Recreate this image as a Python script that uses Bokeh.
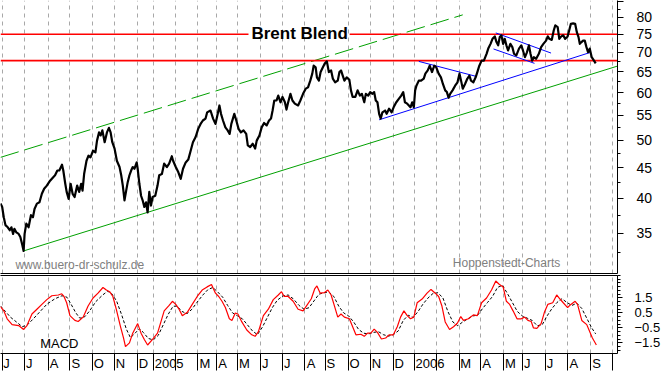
from bokeh.plotting import figure
from bokeh.layouts import column
from bokeh.models import Range1d, FixedTicker, LinearAxis, BasicTickFormatter, Label
from bokeh.embed import file_html
from bokeh.resources import INLINE

# ---------------- data (x unit = trading days from the left edge) ----------------
month_start_day = [1.7, 24.2, 48.0, 70.0, 92.5, 115.0, 137.7, 154.3, 176.5, 199.0, 218.0,
                   239.3, 262.0, 284.3, 306.7, 327.5, 350.7, 372.7, 395.7, 417.3, 440.0,
                   462.3, 484.3, 506.7, 526.7, 549.0, 571.7, 595.0, 617.3]
month_label = ["J", "J", "A", "S", "O", "N", "D", "2005", "", "M", "A", "M", "J", "J", "A",
               "S", "O", "N", "D", "2006", "", "M", "A", "M", "J", "J", "A", "S", "O"]

price_day = [
    0, 1.7, 3.3, 5, 7.3, 9.3, 11, 12.7, 14, 16,
    18.3, 20, 21.7, 23.3, 24.3, 26, 28.3, 30.7, 32.7, 34.3,
    36.7, 39.3, 41.7, 44, 46.7, 50, 52.7, 55, 57.3, 59.3,
    62, 63.3, 65.3, 66.7, 68.7, 70.7, 72.7, 74.7, 77.3, 79.3,
    81.3, 82.7, 84.3, 86.7, 88.7, 90.7, 93.3, 95.7, 97.3, 99.3,
    101, 102.7, 105, 107.3, 109.3, 111, 112.7, 115, 117.3, 120,
    121.7, 123.3, 125, 126.7, 128.3, 130, 131.7, 133.3, 135, 137.3,
    138.3, 140, 141.7, 143.3, 145, 146.7, 148.3, 150, 151.7, 153.3,
    156, 158.3, 160, 162.7, 165, 167.7, 170, 172.7, 174, 176.7,
    179.3, 181.7, 184, 186.7, 189.3, 191.7, 194, 196.7, 199.3, 201.7,
    204, 206.7, 208.3, 211.7, 214.3, 216.7, 219, 220.7, 222.3, 224.3,
    226.7, 229, 231, 232.7, 235.7, 237.7, 240, 242.3, 245, 247.7,
    249.3, 251.7, 254.3, 256.7, 258.3, 261, 263.3, 265.7, 268.3, 270.7,
    272.7, 274.3, 276, 278.3, 280, 282.3, 284.3, 286.7, 288.3, 290,
    292.3, 294.3, 296.7, 300, 302.3, 305, 307.7, 310, 312.3, 314.3,
    315.7, 317.7, 319, 321, 322.7, 325, 327, 329, 331, 333.3,
    335, 337.3, 340, 341.7, 343.3, 345, 346.7, 349, 351.7, 353.3,
    355, 357.7, 360, 362.3, 364.3, 366.7, 368.3, 370.7, 372.7, 375,
    376.7, 378.3, 380, 381.7, 383.3, 385, 387.7, 389.3, 391.7, 394.3,
    396.7, 399, 401.7, 404, 406, 407.7, 410, 411.7, 413.3, 415,
    416.7, 418, 419.3, 421.7, 424, 426.7, 428.3, 430.7, 432.7, 435,
    437.3, 439.3, 441.7, 444, 446, 448.3, 450, 451.7, 453.3, 455.7,
    458.3, 460.7, 462.7, 464.3, 466, 468.3, 470.7, 472.7, 474.3, 476.7,
    479, 480.7, 482.7, 485, 487.3, 490, 491.7, 494, 496, 498.3,
    500, 501.7, 503.3, 505, 506.7, 508.3, 510, 511.7, 514, 516,
    517.7, 520, 522.7, 525, 526.7, 528.7, 530.7, 532.7, 534.3, 536,
    537.7, 540, 542.7, 545, 547.3, 550, 551.7, 553.3, 555.7, 557.7,
    559.3, 561.7, 563.3, 565.3, 567.3, 569.3, 571.7, 573.3, 575, 577.3,
    579.3, 581, 582.7, 584, 585.7, 587.3, 589, 590.7, 592.3, 594,
    596, 598.3, 600]
price = [
    39.2, 38.7, 37.2, 36.1, 35.8, 35.4, 35.8, 34.9, 35.6, 35.1,
    34.9, 34.5, 33.6, 32.7, 34.9, 36.3, 35.8, 37.5, 37.2, 38.4,
    39.2, 39.4, 40.7, 41.5, 42.0, 42.8, 43.3, 43.7, 44.5, 44.5,
    45.5, 44.5, 42.3, 41.0, 39.9, 42.3, 40.7, 40.2, 42.0, 41.0,
    42.3, 41.2, 43.9, 46.2, 47.1, 46.8, 48.0, 47.7, 49.9, 51.5,
    50.9, 51.9, 49.6, 51.5, 52.4, 51.5, 49.6, 48.4, 46.2, 45.1,
    43.7, 42.0, 39.7, 41.2, 42.6, 43.7, 44.5, 45.1, 44.8, 45.9,
    44.8, 42.3, 40.4, 39.7, 38.7, 39.4, 37.9, 41.0, 38.9, 40.2,
    40.4, 42.0, 43.7, 43.9, 45.7, 45.1, 45.7, 47.0, 46.2, 45.1,
    44.2, 43.1, 44.8, 45.9, 46.4, 48.0, 49.6, 50.6, 52.2, 53.2,
    53.9, 54.3, 55.6, 56.0, 54.3, 53.2, 55.3, 57.1, 55.3, 53.9,
    52.5, 51.9, 51.2, 53.2, 55.3, 53.9, 52.2, 51.5, 51.9, 51.2,
    49.0, 48.7, 49.3, 48.4, 49.9, 50.9, 52.5, 53.4, 52.9, 53.9,
    54.3, 56.0, 58.2, 58.2, 59.3, 57.8, 59.0, 57.8, 56.2, 57.8,
    59.7, 58.2, 57.5, 57.1, 58.2, 59.7, 60.9, 61.2, 62.8, 64.5,
    66.5, 66.1, 63.6, 62.8, 64.9, 66.1, 67.1, 67.6, 64.9, 65.3,
    63.3, 62.4, 62.8, 64.9, 65.3, 64.0, 62.8, 63.6, 63.0, 60.5,
    59.0, 59.0, 60.5, 59.3, 59.7, 57.8, 59.7, 59.3, 60.1, 59.7,
    60.1, 58.2, 57.8, 55.3, 54.3, 55.6, 56.0, 55.3, 56.4, 55.6,
    56.9, 57.8, 58.6, 59.3, 60.1, 57.8, 57.5, 57.1, 56.7, 57.8,
    56.7, 60.5, 61.6, 62.8, 62.8, 63.3, 64.5, 65.3, 66.5, 64.9,
    66.5, 66.1, 64.5, 63.6, 62.0, 60.5, 60.1, 58.8, 59.7, 60.5,
    61.6, 62.4, 64.5, 62.8, 60.9, 62.0, 63.3, 64.0, 62.8, 62.4,
    63.6, 64.9, 66.5, 67.8, 67.8, 69.6, 71.0, 72.3, 73.7, 74.4,
    72.8, 71.9, 74.2, 74.7, 72.3, 73.7, 71.9, 70.5, 72.3, 71.4,
    69.6, 69.2, 71.0, 71.9, 70.5, 68.7, 70.0, 71.9, 69.6, 67.8,
    68.7, 68.3, 69.6, 71.4, 72.3, 73.2, 74.4, 73.7, 73.4, 76.1,
    77.6, 77.1, 73.7, 74.4, 74.7, 73.7, 74.4, 76.1, 78.1, 78.2,
    78.1, 75.6, 74.2, 72.3, 72.8, 73.2, 73.2, 71.4, 70.0, 71.0,
    68.7, 67.8, 67.1]

macd_day = [
    0, 3.3, 6.7, 11.7, 18.3, 23.3, 26.7, 31.7, 36.7, 41.7,
    46.7, 51.7, 58.3, 61.7, 64, 66.7, 70, 75, 78.3, 83.3,
    88.3, 93.3, 98.3, 103.3, 106.7, 110, 113.3, 116.7, 120.7, 124,
    126, 130, 133.3, 138.3, 141.7, 145, 148.3, 153.3, 158.3, 161.7,
    165, 170, 173.3, 176.7, 180, 183.3, 188.3, 193.3, 198.3, 203.3,
    208.3, 212.7, 216.7, 220, 223.3, 226.7, 230.7, 233.3, 236.7, 239.3,
    243.3, 248.3, 253.3, 256.7, 260, 265, 270, 275, 280, 283.3,
    286, 290, 295, 300, 305, 308.3, 313.3, 316.7, 319, 322.3,
    326.7, 330, 333.3, 336.7, 340, 343.3, 346.7, 351.7, 355, 358.3,
    363.3, 366.7, 370, 373.3, 376.7, 380, 384, 388.3, 391.7, 396,
    400, 403.3, 406.7, 410, 413.3, 416.7, 420, 425, 430, 434,
    438.3, 441.7, 445, 448.3, 452.7, 456.7, 460.7, 464, 466.7, 471.7,
    476.7, 480.7, 485, 490, 495, 499.3, 502.7, 506.7, 510, 513.3,
    516.7, 520.7, 525, 528.3, 531.7, 535, 537.3, 540.7, 545, 548.3,
    551.7, 556.7, 560.7, 564, 567.3, 571.7, 575, 579.3, 581.7, 586,
    591, 593.3, 596.7, 600.7]
macd = [
    0.92, 0.64, 0.11, -0.28, -0.34, -0.6, -0.34, 0.43, 0.75, 1.07,
    1.39, 1.65, 1.7, 1.78, 1.6, 1.18, 0.32, 0.0, -0.07, 0.22,
    0.96, 1.5, 1.82, 2.2, 2.03, 1.92, 1.6, 0.75, -0.34, -1.17,
    -1.75, -1.5, -0.85, -0.21, -0.85, -1.27, -1.64, -1.27, -0.85, -0.1,
    0.64, 1.0, 1.28, 1.07, 0.75, 0.32, 0.54, 1.07, 1.6, 2.03,
    2.24, 2.4, 1.82, 1.6, 1.28, 0.86, 0.11, 0.0, 0.5, 0.43,
    -0.1, -0.64, -0.96, -1.06, -0.75, 0.32, 0.75, 1.39, 1.7, 1.92,
    1.6, 1.6, 1.28, 0.75, 0.64, 0.96, 1.45, 2.1, 2.3, 1.82,
    1.86, 2.03, 1.7, 0.96, 0.22, 0.43, 0.22, 0.11, -0.42, -0.96,
    -0.92, -1.06, -0.85, -0.85, -0.58, -0.8, -1.24, -1.17, -0.96, -0.96,
    -0.42, 0.22, 0.64, 0.32, 0.11, 0.22, 1.18, 1.43, 1.82, 2.07,
    1.82, 1.6, 0.96, -0.1, -0.6, -0.42, -0.17, 0.26, 0.0, 0.11,
    0.37, 0.32, 1.18, 1.5, 2.03, 2.63, 2.42, 2.24, 1.28, 1.07,
    0.64, 0.11, 0.11, 0.22, 0.0, -0.07, -0.5, -0.53, -0.21, 0.54,
    1.07, 1.18, 1.7, 1.43, 1.18, 0.86, 1.07, 1.28, 1.07, 0.0,
    -0.28, -0.64, -1.17, -1.64]

signal_day = [
    0, 5, 10, 16, 22, 27, 33, 40, 47, 55,
    62, 67, 71, 76, 80, 85, 90, 96, 103, 108,
    112, 117, 122, 127, 131, 135, 140, 144, 149, 154,
    159, 164, 169, 174, 178, 183, 188, 193, 198, 204,
    209, 214, 219, 224, 229, 234, 239, 244, 249, 254,
    259, 264, 269, 274, 279, 285, 290, 295, 301, 306,
    311, 316, 321, 326, 331, 336, 341, 346, 351, 356,
    361, 366, 371, 376, 381, 386, 391, 396, 401, 406,
    411, 416, 421, 426, 431, 436, 441, 446, 451, 456,
    461, 466, 471, 476, 481, 486, 491, 496, 501, 506,
    511, 516, 521, 526, 531, 536, 541, 546, 551, 556,
    561, 566, 571, 576, 581, 586, 591, 596, 600]
signal = [
    0.96, 0.6, 0.22, -0.1, -0.42, -0.3, 0.1, 0.6, 1.1, 1.45,
    1.65, 1.55, 1.1, 0.5, 0.15, 0.25, 0.65, 1.25, 1.7, 1.95,
    1.8, 1.3, 0.4, -0.6, -1.15, -0.9, -0.55, -0.8, -1.2, -1.3,
    -1.0, -0.3, 0.4, 0.95, 0.95, 0.6, 0.45, 0.75, 1.2, 1.7,
    2.05, 2.2, 1.9, 1.55, 1.0, 0.5, 0.3, 0.1, -0.3, -0.7,
    -0.95, -0.45, 0.2, 0.85, 1.35, 1.65, 1.7, 1.45, 1.0, 0.75,
    0.85, 1.3, 1.75, 1.85, 1.9, 1.6, 0.95, 0.5, 0.3, -0.1,
    -0.6, -0.85, -0.9, -0.8, -0.75, -0.95, -1.05, -0.95, -0.7, 0.0,
    0.35, 0.2, 0.6, 1.1, 1.5, 1.8, 1.85, 1.5, 0.6, -0.1,
    -0.35, -0.1, 0.1, 0.3, 0.35, 0.8, 1.2, 1.6, 2.2, 2.35,
    1.8, 1.2, 0.6, 0.3, 0.15, 0.0, -0.35, -0.3, 0.3, 0.8,
    1.2, 1.45, 1.2, 1.0, 1.15, 0.8, 0.15, -0.5, -0.9]

# horizontal resistance levels (red)
red_level = [75.0, 75.0, 67.8]
red_from_day = [0, 352, 0]
red_to_day = [250, 622, 622]

# green trend channel
channel_low_day = [23.3, 622.0]
channel_low_price = [32.7, 66.4]
channel_high_day = [0.0, 466.0]
channel_high_price = [46.8, 80.8]

# blue trend lines
blue_from_day = [381.7, 421.7, 499.3, 497.0]
blue_from_price = [54.05, 67.6, 75.4, 70.9]
blue_to_day = [595.0, 480.0, 555.0, 538.3]
blue_to_price = [70.0, 63.8, 69.8, 67.1]

price_ticks = [35, 40, 45, 50, 55, 60, 65, 70, 75, 80, 85]
price_minor_ticks = [32.5, 37.5, 42.5, 47.5, 52.5, 57.5, 62.5, 67.5, 72.5, 77.5, 82.5]
macd_ticks = [-1.5, -0.5, 0.5, 1.5]
macd_minor_ticks = [-2.0 + 0.25 * i for i in range(21)]

# ---------------- layout ----------------
FONT = "Liberation Sans"
W = 663
X_RANGE = Range1d(0, 622)
GRID_COLOR = "#a8a8a8"

pa = figure(width=W, height=274, x_range=X_RANGE, y_range=Range1d(29.99, 85.37),
            y_axis_type="log", y_axis_location="right", output_backend="svg",
            toolbar_location=None, min_border_left=0, min_border_right=41,
            min_border_top=0, min_border_bottom=1)
pa.outline_line_color = None
pa.background_fill_color = "white"
pa.border_fill_color = "white"

ya = pa.yaxis[0]
ya.ticker = FixedTicker(ticks=price_ticks, minor_ticks=price_minor_ticks)
ya.formatter = BasicTickFormatter()
ya.major_label_overrides = {85: ""}
ya.major_tick_out = 6
ya.major_tick_in = 0
ya.minor_tick_out = 3
ya.minor_tick_in = 0
ya.major_label_standoff = 13
ya.major_label_text_font = FONT
ya.major_label_text_font_size = "14px"
ya.major_label_text_color = "black"
ya.axis_line_color = "black"
ya.major_tick_line_color = "black"
ya.minor_tick_line_color = "black"

xa = pa.xaxis[0]
xa.ticker = FixedTicker(ticks=[])
xa.major_tick_out = 0
xa.major_tick_in = 0
xa.minor_tick_out = 0
xa.minor_tick_in = 0
xa.major_label_standoff = 0
xa.major_label_text_font_size = "0px"
xa.axis_line_color = "black"

pa.xgrid.ticker = FixedTicker(ticks=month_start_day)
pa.xgrid.grid_line_color = GRID_COLOR
pa.xgrid.grid_line_dash = "4 4"
pa.ygrid.visible = False

# channel
pa.line(channel_low_day, channel_low_price, line_color="#00a000", line_width=1)
pa.line(channel_high_day, channel_high_price, line_color="#00a000", line_width=1,
        line_dash="19 6")
# red levels
pa.segment(x0=red_from_day, y0=red_level, x1=red_to_day, y1=red_level,
           line_color="#ff0000", line_width=1.6)
# blue lines
pa.segment(x0=blue_from_day, y0=blue_from_price, x1=blue_to_day, y1=blue_to_price,
           line_color="#0000ff", line_width=1)
# price
pa.line(price_day, price, line_color="black", line_width=2.2, line_join="round")

pa.add_layout(Label(x=253, y=75.3, text="Brent Blend", text_font=FONT,
                    text_font_size="17px", text_font_style="bold", text_color="black",
                    text_align="left", text_baseline="alphabetic"))
pa.add_layout(Label(x=15, y=30.95, text="www.buero-dr-schulz.de", text_font=FONT,
                    text_font_size="12px", text_color="#808080",
                    text_align="left", text_baseline="alphabetic"))
pa.add_layout(Label(x=456, y=31.25, text="Hoppenstedt-Charts", text_font=FONT,
                    text_font_size="12px", text_color="#808080",
                    text_align="left", text_baseline="alphabetic"))

# ---------------- MACD panel ----------------
pb = figure(width=W, height=99, x_range=X_RANGE, y_range=Range1d(-2.207, 3.0),
            y_axis_location="right", output_backend="svg", toolbar_location=None,
            min_border_left=0, min_border_right=41, min_border_top=1,
            min_border_bottom=17)
pb.outline_line_color = None
pb.background_fill_color = "white"
pb.border_fill_color = "white"

yb = pb.yaxis[0]
yb.ticker = FixedTicker(ticks=macd_ticks, minor_ticks=macd_minor_ticks)
yb.formatter = BasicTickFormatter()
yb.major_tick_out = 5
yb.major_tick_in = 0
yb.minor_tick_out = 3
yb.minor_tick_in = 0
yb.major_label_standoff = 12
yb.major_label_text_font = FONT
yb.major_label_text_font_size = "13px"
yb.major_label_text_color = "black"
yb.axis_line_color = "black"

# month labels: placed just right of each month boundary
char_w = {"J": 6.5, "A": 8.7, "S": 8.7, "O": 10.1, "N": 9.4, "D": 9.4, "M": 10.8}
label_pos, overrides = [], {}
for start, lab in zip(month_start_day, month_label):
    if not lab:
        continue
    w = char_w.get(lab, 7.2 * len(lab))
    pos = int(round(start + 1.5 + w / 2.0))
    if pos < 622:
        label_pos.append(pos)
        overrides[pos] = lab

xb = pb.xaxis[0]
xb.ticker = FixedTicker(ticks=label_pos, minor_ticks=month_start_day)
xb.major_label_overrides = overrides
xb.major_tick_out = 0
xb.major_tick_in = 0
xb.minor_tick_out = 17
xb.minor_tick_in = 0
xb.major_label_standoff = -15
xb.major_label_text_font = FONT
xb.major_label_text_font_size = "13px"
xb.major_label_text_color = "black"
xb.axis_line_color = "black"
xb.minor_tick_line_color = "black"

top_axis = LinearAxis(ticker=FixedTicker(ticks=[]), major_tick_out=0, major_tick_in=0,
                      minor_tick_out=0, minor_tick_in=0, major_label_standoff=0,
                      major_label_text_font_size="0px", axis_line_color="black")
pb.add_layout(top_axis, "above")

pb.xgrid.ticker = FixedTicker(ticks=month_start_day)
pb.xgrid.grid_line_color = GRID_COLOR
pb.xgrid.grid_line_dash = "4 4"
pb.ygrid.visible = False

pb.line(signal_day, signal, line_color="black", line_width=1, line_dash="3 2")
pb.line(macd_day, macd, line_color="#ff0000", line_width=1.2)

pb.add_layout(Label(x=40, y=-1.56, text="MACD", text_font=FONT, text_font_size="13px",
                    text_color="black", text_align="left", text_baseline="alphabetic"))

layout = column(pa, pb, spacing=0)
open("out.html", "w").write(file_html(layout, INLINE))
